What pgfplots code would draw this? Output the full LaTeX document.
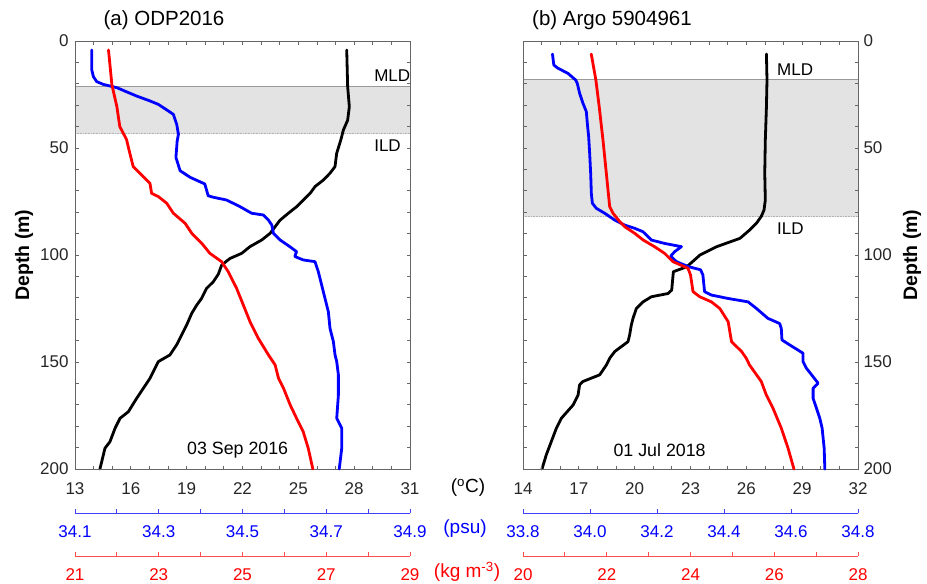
\documentclass[border=0pt]{standalone}
\usepackage{pgfplots}
\pgfplotsset{compat=1.18}
\usepackage{fontspec}
\setmainfont{Liberation Sans}

\newcommand{\tfs}{\fontsize{17}{20}\selectfont}
\newcommand{\ufs}{\fontsize{19}{22}\selectfont}

\pgfplotsset{
  mainax/.style={scale only axis, width=335pt, height=428pt, ymin=0, ymax=200, y dir=reverse, clip=false},
  hid/.style={mainax, hide axis},
  frameax/.style={mainax, ytick={0,50,...,200}, minor y tick num=4, tick align=inside,
    major tick length=3.5pt, minor tick length=3.5pt,
    axis line style={black!60, line width=0.8pt}, tick style={black!60, line width=0.8pt},
    tick label style={font=\tfs, text=black!85}, /pgf/number format/assume math mode=true,
    axis on top, xticklabel style={yshift=-10pt}},
  scaleax/.style={scale only axis, width=335pt, height=10pt, ymin=0, ymax=1, hide y axis,
    axis x line*=bottom, xtick align=inside, major tick length=4.3pt, minor tick length=4.3pt,
    scaled x ticks=false, tick label style={font=\tfs}, xticklabel style={yshift=-9pt},
    /pgf/number format/assume math mode=true},
  salax/.style={scaleax, axis line style={blue!75, line width=0.8pt}, tick style={blue!75, line width=0.8pt},
    xticklabel style={text=blue}, /pgf/number format/.cd, fixed, fixed zerofill, precision=1},
  denax/.style={scaleax, axis line style={red!70, line width=0.8pt}, tick style={red!70, line width=0.8pt},
    xticklabel style={text=red}},
  curve/.style={line width=2.8pt, line join=round, line cap=round},
}

\begin{document}
\begin{tikzpicture}
\path[use as bounding box] (0pt,0pt) rectangle (927pt,-584pt);

% ================= LEFT PANEL =================
\begin{axis}[frameax, at={(75pt,-469pt)}, anchor=south west, xmin=13, xmax=31,
  xtick={13,16,...,31}, minor x tick num=2, yticklabel style={xshift=-3pt}]
\fill[gray!22] (axis cs:13,21.3) rectangle (axis cs:31,43.3);
\draw[gray!80, line width=0.6pt] (axis cs:13,21.3) -- (axis cs:31,21.3);
\draw[gray!60, densely dotted, line width=0.6pt] (axis cs:13,43.3) -- (axis cs:31,43.3);
\addplot[curve, black] coordinates {(27.60,4.2)(27.65,21.3)(27.74,30.7)(27.65,37)(27.42,41.6)(27.28,46.3)(27.06,52.5)(26.97,58.7)(26.70,61.8)(26.34,65)(25.90,68)(25.63,71.2)(25.27,74.3)(24.91,77.4)(24.46,80.5)(24.02,83.7)(23.75,86.8)(23.48,89.9)(23.03,93)(22.40,96.1)(21.96,99.2)(21.33,101.6)(20.88,104.7)(20.70,109)(20.43,112.5)(20.07,115.6)(19.80,120.3)(19.54,123.4)(19.27,127.3)(19.00,132.7)(18.73,137.4)(18.46,142)(18.10,146.7)(17.48,149.8)(17.30,152.9)(17.03,157.6)(16.67,162.3)(16.31,167)(15.87,173.2)(15.42,176.3)(15.15,181)(14.88,187.2)(14.61,190.3)(14.34,200)};
\node[anchor=west, inner sep=0, font=\tfs] at (axis cs:29.07,16.2) {MLD};
\node[anchor=west, inner sep=0, font=\tfs] at (axis cs:29.07,49) {ILD};
\node[inner sep=0, font=\fontsize{17.8}{20}\selectfont] at (axis cs:21.74,191) {03 Sep 2016};
\end{axis}

\begin{axis}[hid, at={(75pt,-469pt)}, anchor=south west, xmin=34.1, xmax=34.9]
\addplot[curve, blue] coordinates {(34.140,4.2)(34.140,13.5)(34.144,16.7)(34.152,19)(34.168,20.3)(34.200,21.8)(34.219,23.4)(34.247,25.7)(34.279,28)(34.299,29.6)(34.323,32.7)(34.335,34.3)(34.343,39)(34.347,43.6)(34.344,46.7)(34.341,54.4)(34.351,60.6)(34.375,63.7)(34.410,66.8)(34.418,72.3)(34.430,73)(34.462,74.3)(34.494,77.4)(34.522,80.5)(34.550,81.3)(34.562,83.7)(34.570,86)(34.574,89.9)(34.590,93)(34.613,96.1)(34.629,98.4)(34.625,100.7)(34.645,102.3)(34.673,103.1)(34.681,107.8)(34.689,114)(34.697,120.3)(34.705,126.5)(34.709,134.3)(34.717,140.5)(34.721,146.7)(34.725,149.8)(34.729,156)(34.729,165.4)(34.725,176.3)(34.737,181)(34.737,190.3)(34.731,200)};
\end{axis}

\begin{axis}[hid, at={(75pt,-469pt)}, anchor=south west, xmin=21, xmax=29]
\addplot[curve, red] coordinates {(21.80,4.2)(21.88,20.3)(22.00,30.7)(22.07,40)(22.23,46)(22.31,52.5)(22.39,58.7)(22.55,61.8)(22.79,66.5)(22.83,71.2)(22.99,72.7)(23.19,75.8)(23.35,80.5)(23.63,85.2)(23.79,89.9)(24.03,94.6)(24.22,99.2)(24.50,103.1)(24.66,107.8)(24.86,115.6)(25.02,123.4)(25.18,131.2)(25.38,139)(25.62,146.7)(25.78,151.4)(25.86,157.6)(25.98,162.3)(26.14,170.1)(26.33,177.9)(26.45,182.6)(26.57,190.3)(26.68,200)};
\end{axis}

\begin{axis}[salax, at={(75pt,-513pt)}, anchor=south west, xmin=34.1, xmax=34.9,
  xtick={34.1,34.3,34.5,34.7,34.9}, minor xtick={34.2,34.4,34.6,34.8}]
\end{axis}
\begin{axis}[denax, at={(75pt,-556pt)}, anchor=south west, xmin=21, xmax=29,
  xtick={21,23,25,27,29}, minor xtick={22,24,26,28}]
\end{axis}

% ================= RIGHT PANEL =================
\begin{axis}[frameax, at={(523pt,-469pt)}, anchor=south west, xmin=14, xmax=32,
  xtick={14,17,...,32}, minor x tick num=2, yticklabel pos=right, yticklabel style={xshift=2pt}]
\fill[gray!22] (axis cs:14,17.8) rectangle (axis cs:32,82.1);
\draw[gray!80, line width=0.6pt] (axis cs:14,17.8) -- (axis cs:32,17.8);
\draw[gray!60, densely dotted, line width=0.6pt] (axis cs:14,82.1) -- (axis cs:32,82.1);
\addplot[curve, black] coordinates {(27.08,6.1)(27.11,18.2)(27.08,30.7)(27.02,46.3)(26.99,61.8)(27.02,74.3)(26.95,79)(26.80,82)(26.54,85.2)(26.18,88.3)(25.66,92.2)(24.41,96.1)(23.51,100)(22.80,105.5)(22.08,107.8)(21.99,116.4)(21.79,118)(20.90,119.5)(20.45,121.9)(20.09,125)(19.91,129.6)(19.82,132.7)(19.73,137.4)(19.64,140.5)(18.93,145.1)(18.66,148.2)(18.48,151.4)(18.12,156)(17.22,159.1)(17.04,160.7)(16.96,165.4)(16.69,170.1)(16.06,176.3)(15.79,181)(15.52,187.2)(15.25,193.4)(15.02,200)};
\node[anchor=west, inner sep=0, font=\tfs] at (axis cs:27.65,13.6) {MLD};
\node[anchor=west, inner sep=0, font=\tfs] at (axis cs:27.65,87.9) {ILD};
\node[inner sep=0, font=\fontsize{17.8}{20}\selectfont] at (axis cs:21.34,191) {01 Jul 2018};
\end{axis}

\begin{axis}[hid, at={(523pt,-469pt)}, anchor=south west, xmin=33.8, xmax=34.8]
\addplot[curve, blue] coordinates {(33.888,6.1)(33.892,11.2)(33.904,12.7)(33.934,15.1)(33.957,18.2)(33.962,19.8)(33.969,24.4)(33.979,29.1)(33.989,33)(33.992,38.5)(33.996,44.7)(33.999,52.5)(34.002,61.8)(34.004,71.2)(34.007,75.8)(34.019,78.2)(34.044,80.5)(34.074,83.7)(34.103,86)(34.133,87.5)(34.158,89.1)(34.173,91.4)(34.183,93)(34.223,94.6)(34.273,96.1)(34.253,98.4)(34.241,100.5)(34.258,103.1)(34.293,105.4)(34.330,106.9)(34.337,109.3)(34.342,117.1)(34.362,118.7)(34.412,120.3)(34.472,121.9)(34.497,125)(34.531,129.6)(34.566,132)(34.571,134.3)(34.573,139.7)(34.596,142)(34.636,145.9)(34.636,149.8)(34.646,152.9)(34.681,159.9)(34.666,162.3)(34.666,167)(34.676,171.6)(34.686,176.3)(34.693,181)(34.699,190.3)(34.701,200)};
\end{axis}

\begin{axis}[hid, at={(523pt,-469pt)}, anchor=south west, xmin=20, xmax=28]
\addplot[curve, red] coordinates {(21.63,6.1)(21.74,18.2)(21.82,30.7)(21.91,46.3)(21.99,61.8)(22.07,77.4)(22.15,80.5)(22.31,84.4)(22.43,86.8)(22.67,89.9)(22.87,93)(23.14,96.1)(23.38,99.2)(23.58,103.1)(23.94,106.2)(24.00,109.3)(24.06,117.1)(24.22,119.5)(24.50,121.9)(24.70,125)(24.90,131.2)(24.94,135.9)(24.98,140.5)(25.22,145.1)(25.33,148.2)(25.41,151.4)(25.69,159.1)(25.81,165.4)(25.97,171.6)(26.17,181)(26.33,190.3)(26.47,200)};
\end{axis}

\begin{axis}[salax, at={(523pt,-513pt)}, anchor=south west, xmin=33.8, xmax=34.8,
  xtick={33.8,34.0,34.2,34.4,34.6,34.8}]
\end{axis}
\begin{axis}[denax, at={(523pt,-556pt)}, anchor=south west, xmin=20, xmax=28,
  xtick={20,22,24,26,28}, minor xtick={21,23,25,27}]
\end{axis}

% ================= TEXT =================
\node[font=\fontsize{20.5}{24}\selectfont] at (164pt,-20pt) {(a) ODP2016};
\node[font=\fontsize{20.5}{24}\selectfont] at (612pt,-20pt) {(b) Argo 5904961};
\node[rotate=90, font=\fontsize{19.5}{22}\selectfont\bfseries] at (24pt,-255pt) {Depth (m)};
\node[rotate=90, font=\fontsize{19.5}{22}\selectfont\bfseries] at (912pt,-255pt) {Depth (m)};
\node[font=\ufs] at (468pt,-488pt) {(\textsuperscript{o}C)};
\node[font=\ufs, text=blue] at (465pt,-529pt) {(psu)};
\node[font=\ufs, text=red] at (467pt,-572pt) {(kg m\textsuperscript{-3})};
\end{tikzpicture}
\end{document}
